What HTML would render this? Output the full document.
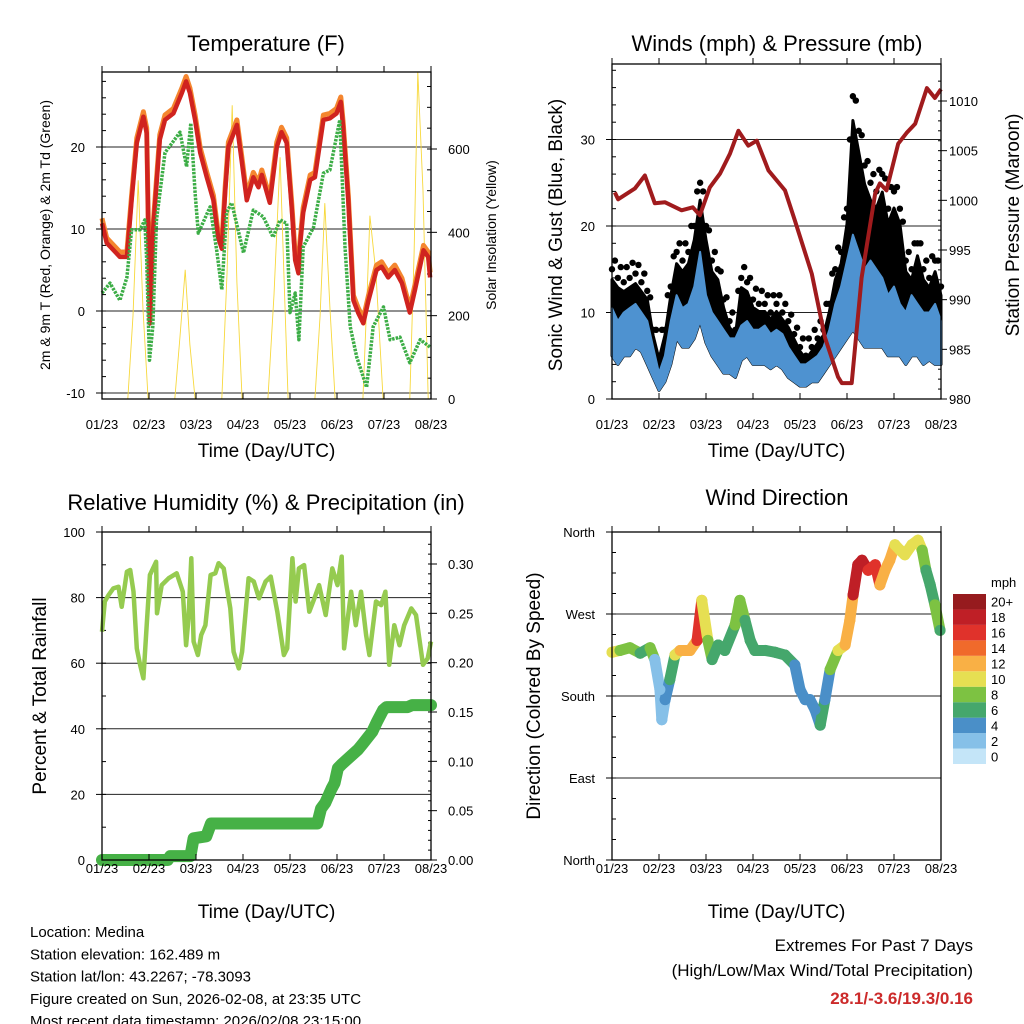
<!DOCTYPE html>
<html><head><meta charset="utf-8"><style>
html,body{margin:0;padding:0;background:#fff;}
svg{display:block;font-family:"Liberation Sans",sans-serif;}
</style></head><body>
<svg id="c" width="1024" height="1024" viewBox="0 0 1024 1024" xmlns="http://www.w3.org/2000/svg"></svg>
<script>
// ---------- Temperature data ----------
const tempDays=[0,0.10,0.38,0.53,0.63,0.74,0.88,0.95,1.02,1.09,1.23,1.34,1.52,1.70,1.79,1.87,1.98,2.09,2.23,2.37,2.47,2.55,2.62,2.69,2.87,2.97,3.08,3.22,3.33,3.40,3.57,3.72,3.82,3.93,4.04,4.11,4.18,4.21,4.28,4.43,4.53,4.71,4.85,4.99,5.08,5.13,5.24,5.35,5.45,5.56,5.67,5.84,5.95,6.09,6.23,6.38,6.55,6.66,6.84,6.94,6.98];
const tempRed=[10.7,8.3,6.6,6.6,13.5,20.5,23.7,21.7,-1.5,10,20.9,23.3,24.1,26.6,28,26.6,23.3,19.3,16.3,13.5,9,7.6,14.4,20,22.7,18.4,13.5,16.3,15.1,16.6,13.2,20,21.8,20.5,12.3,6.2,4.6,7.8,12,16,16.3,23.3,23.5,24.1,25.5,22.5,13.5,1.3,-0.2,-1.5,1.3,5,5.4,4.1,5,3.4,-0.2,2.6,7.4,6.6,4.1];
const dewDays=[0,0.17,0.38,0.53,0.63,0.81,0.91,0.95,1.01,1.08,1.16,1.34,1.66,1.80,1.89,1.98,2.05,2.30,2.44,2.55,2.65,2.76,3.01,3.22,3.43,3.64,3.79,3.93,4.0,4.11,4.19,4.28,4.50,4.71,4.85,5.06,5.17,5.28,5.42,5.63,5.77,5.99,6.13,6.34,6.55,6.77,6.98];
const dewVals=[2.2,3.4,1.3,4.1,9.9,9.9,11.1,6.2,-6,-1.9,11.1,19.3,21.8,17.6,22.9,14.4,9.5,12.7,7.4,2.6,12,13.2,7.1,12.3,11.5,9,11.1,10.7,-0.2,2.2,-3.5,7.8,10.2,16.8,17.2,23.3,7.8,-1.9,-5.6,-9.3,-1.9,0.5,-3.5,-3.2,-6.3,-3.5,-4.4];
const solarDays=[0,0.55,0.66,0.77,0.87,0.98,1.55,1.66,1.77,1.87,1.98,2.55,2.66,2.77,2.87,2.98,3.53,3.66,3.79,3.87,3.96,4.53,4.64,4.74,4.85,4.96,5.55,5.64,5.70,5.83,5.98,6.55,6.64,6.72,6.83,6.94,7.0];
const solarVals=[0,0,200,525,220,0,0,150,310,130,0,0,300,705,280,0,0,250,580,300,0,0,200,470,220,0,0,250,440,300,0,0,350,785,500,0,0];
const tempTicks=[-10,0,10,20];
const solarTicks=[0,200,400,600];
const dayLabels=["01/23","02/23","03/23","04/23","05/23","06/23","07/23","08/23"];
// ---------- Wind data ----------
const windDays=[0,0.125,0.25,0.375,0.5,0.625,0.75,0.875,1,1.125,1.25,1.375,1.5,1.625,1.75,1.875,2,2.125,2.25,2.375,2.5,2.625,2.75,2.875,3,3.125,3.25,3.375,3.5,3.625,3.75,3.875,4,4.125,4.25,4.375,4.5,4.625,4.75,4.875,5,5.125,5.25,5.375,5.5,5.625,5.75,5.875,6,6.125,6.25,6.375,6.5,6.625,6.75,6.875,7];
const windHi=[10.5,9,10,10.5,11,10,9,6,3,5,9,12,10.5,11,13,17,12,10,9,8,7,7,8.5,9,8,8,8.5,7.5,8,7.5,6,5,4,4,4.5,5,6,8,11,13,16,19,17,15,16,15,14,12,13,11,10,12,11,10,10,11,9];
const windLo=[5,4,5,5,6,5.5,4,2.5,1,2,4,7,6,6,7,9,6.5,5,4,3,3,2.5,4.5,5,4,4,4,3.5,4,3.5,2.5,2,1.5,1.5,2,2,3,4,5,6,7,8,7,6,6,6,6,5,5,5,4,5,5,4,4.5,4,4];
const gustHi=[15,14,13.5,14,14.5,13.5,12.5,8,5,8,13,17,16,17,20,25,20,16,15,11.5,9,8,14,13.5,11.5,11,11,10,11,10,9,7.5,6,5,6,7,8,11,15,17,22,35,31,27,25,24,26,22,24,22,16,15,18,15,14,16,13];
const presDays=[0.06,0.13,0.49,0.70,0.91,1.13,1.48,1.72,1.87,2.08,2.30,2.51,2.69,2.90,3.08,3.33,3.68,3.89,4.25,4.53,4.81,4.89,5.10,5.31,5.60,5.70,5.84,6.09,6.27,6.45,6.70,6.87,7.0];
const presVals=[1000.8,1000.1,1001.2,1002.5,999.7,999.8,999,999.3,998.5,1001.3,1002.7,1004.7,1007,1005.5,1006,1003,1001,998,992.6,986.2,982.2,981.6,981.6,992.2,1000.7,1001.7,1001,1005.7,1006.8,1007.7,1011.3,1010.3,1011.2];
const windTicks=[0,10,20,30];
const presTicks=[980,985,990,995,1000,1005,1010];
// ---------- RH / precip ----------
const rhDays=[0,0.06,0.14,0.24,0.35,0.42,0.53,0.6,0.67,0.74,0.81,0.88,0.95,1.02,1.15,1.17,1.27,1.42,1.59,1.72,1.79,1.84,1.90,1.95,2.04,2.11,2.20,2.31,2.41,2.48,2.59,2.73,2.80,2.91,2.98,3.12,3.23,3.34,3.48,3.59,3.73,3.87,3.94,4.05,4.12,4.19,4.30,4.41,4.52,4.62,4.76,4.90,5.01,5.10,5.15,5.30,5.40,5.51,5.62,5.69,5.83,5.94,6.03,6.11,6.22,6.33,6.43,6.58,6.68,6.83,6.93,7.0];
const rhVals=[69.6,78.8,80.8,82.8,83.3,77.2,87.9,88.4,81.8,64.5,59.5,55.4,71.6,86.9,90.9,75.2,83.8,85.9,87.4,81.8,65.5,73.7,92,66.6,62.5,68.6,71.6,86.9,87.4,90.5,88.9,76.7,63.5,58.4,63.5,85.9,84.9,79.8,84.9,86.4,75.7,62.5,64.5,92,78.8,88.9,89.9,75.7,79.8,83.8,74.7,88.9,83.8,92.5,64.5,81.8,71.6,81.8,68.6,62.5,78.8,77.7,81.8,59.5,71.6,65.5,71.6,76.7,74.7,59.5,61.5,66.6];
const rainDays=[0,1.40,1.45,1.88,1.95,2.22,2.32,4.58,4.66,4.75,4.88,4.95,5.02,5.10,5.45,5.55,5.75,5.85,5.98,6.05,6.5,6.6,7.0];
const rainVals=[0,0,0.004,0.004,0.022,0.024,0.037,0.037,0.052,0.058,0.072,0.078,0.093,0.097,0.112,0.118,0.130,0.140,0.152,0.155,0.155,0.157,0.157];
const rhTicks=[0,20,40,60,80,100];
const rainTicks=[0,0.05,0.10,0.15,0.20,0.25,0.30];
// ---------- Wind direction ----------
const dirDays=[0,0.17,0.38,0.60,0.81,0.91,1.02,1.06,1.13,1.23,1.34,1.45,1.66,1.81,1.91,2.04,2.13,2.26,2.40,2.62,2.72,2.83,2.94,3.04,3.26,3.47,3.68,3.89,4.0,4.11,4.21,4.32,4.43,4.53,4.64,4.81,4.96,5.06,5.13,5.23,5.32,5.45,5.60,5.70,5.81,5.91,6.02,6.13,6.23,6.38,6.51,6.60,6.68,6.77,6.87,6.98];
const dirDeg=[228,230,233,227,233,220,187,154,176,198,225,230,230,241,285,241,220,236,230,258,285,263,241,230,230,228,225,214,187,176,176,165,148,176,209,230,236,263,291,324,329,318,324,302,318,329,346,340,335,346,351,340,318,302,280,252];
const dirSpeed=[9,8,7,6,8,2,2,1,4,6,9,12,12,15,10,7,6,6,5,7,7,6,6,5,6,5,5,3,3,4,3,3,6,4,7,10,11,11,17,18,17,15,16,12,11,12,10,9,10,9,10,7,6,6,8,6];
const dirTicks=[0,90,180,270,360];
const dirLabels=["North","East","South","West","North"];
const speedLevels=["0","2","4","6","8","10","12","14","16","18","20+"];
const speedColors=["#c4e5f8","#86c0e8","#4a8fc8","#45a76c","#7dc242","#e6df52","#f9b045","#f06a2b","#e0322b","#bf1f26","#961b1e"];
const bottomInfo=["Location: Medina","Station elevation: 162.489 m","Station lat/lon: 43.2267; -78.3093","Figure created on Sun, 2026-02-08, at 23:35 UTC","Most recent data timestamp: 2026/02/08 23:15:00"];

const NS="http://www.w3.org/2000/svg";
const svg=document.getElementById('c');
function mk(tag,attrs,parent){const e=document.createElementNS(NS,tag);for(const k in attrs)e.setAttribute(k,attrs[k]);(parent||svg).appendChild(e);return e;}
function txt(s,x,y,size,anchor,parent,extra){const t=mk('text',Object.assign({x:x,y:y,'font-size':size,'text-anchor':anchor||'middle',fill:'#000'},extra||{}),parent);t.textContent=s;return t;}
function lin(d0,d1,r0,r1){return v=>r0+(v-d0)*(r1-r0)/(d1-d0);}
function pts(xs,ys,fx,fy){return xs.map((d,i)=>fx(d).toFixed(1)+','+fy(ys[i]).toFixed(1)).join(' ');}

function frame(g,L,R,T,B,fx,labOff,titleOff){
  const r=mk('rect',{x:L,y:T,width:R-L,height:B-T,fill:'none',stroke:'#000','stroke-width':1.3},g);
  
  
  dayLabels.forEach((lab,i)=>{
    const x=fx(i);
    mk('line',{x1:x,y1:B,x2:x,y2:B-6,stroke:'#000','stroke-width':1},g);
    mk('line',{x1:x,y1:T,x2:x,y2:T-6,stroke:'#000','stroke-width':1},g);
    const t=txt(lab,x,B+labOff,13,'middle',g);
    
    
  });
  const xt=txt('Time (Day/UTC)',(L+R)/2,B+titleOff,19,'middle',g);
  
  
}
function grid(g,L,R,y){mk('line',{x1:L,y1:y,x2:R,y2:y,stroke:'#222','stroke-width':1},g);}
function ytick(g,x,y,dir,len){mk('line',{x1:x,y1:y,x2:x+dir*len,y2:y,stroke:'#000','stroke-width':1},g);}

// ===== Panel 1: Temperature =====
(function(){
  const g=mk('g',{});
  
  
  const L=102,R=431,T=72,B=399;
  const fx=lin(0,7,L,R), fy=lin(0,10,311,229), fs=lin(0,600,399,149);
  const ti=txt('Temperature (F)',266,51,22,'middle',g);
  
  
  tempTicks.forEach(v=>{grid(g,L,R,fy(v));ytick(g,L,fy(v),-1,6);
    const t=txt(String(v),L-17,fy(v)+5,13,'end',g);
    
    });
  for(let v=-10;v<=28;v+=2){ytick(g,L,fy(v),1,4);}
  solarTicks.forEach(v=>{ytick(g,R,fs(v),1,6);
    const t=txt(String(v),R+17,fs(v)+5,13,'start',g);
    
    });
  for(let v=0;v<=780;v+=50){ytick(g,R,fs(v),-1,4);}
  const so=mk('polyline',{points:pts(solarDays,solarVals,fx,fs),fill:'none',stroke:'#f7d83c','stroke-width':0.9},g);
  
  
  const tOr=tempRed.map(v=>v+0.6);
  const or=mk('polyline',{points:pts(tempDays,tOr,fx,fy),fill:'none',stroke:'#f4862f','stroke-width':5,'stroke-linejoin':'round'},g);
  
  
  const rd=mk('polyline',{points:pts(tempDays,tempRed,fx,fy),fill:'none',stroke:'#d0231f','stroke-width':4.5,'stroke-linejoin':'round'},g);
  
  
  const dw=mk('polyline',{points:pts(dewDays,dewVals,fx,fy),fill:'none',stroke:'#3cad46','stroke-width':3.5,'stroke-dasharray':'2.5 1.2','stroke-linejoin':'round'},g);
  
  
  frame(g,L,R,T,B,fx,30,58);
  const yl=txt('2m & 9m T (Red, Orange) & 2m Td (Green)',0,0,14,'middle',g,{transform:'translate(50,235) rotate(-90)'});
  
  
  const yr=txt('Solar Insolation (Yellow)',0,0,14,'middle',g,{transform:'translate(496,235) rotate(-90)'});
  
  
})();

// ===== Panel 2: Winds & Pressure =====
(function(){
  const g=mk('g',{});
  
  
  const L=612,R=941,T=64,B=399;
  const fx=lin(0,7,L,R), fy=lin(0,10,399,312.5), fp=lin(980,1010,399,101);
  const ti=txt('Winds (mph) & Pressure (mb)',777,51,22,'middle',g);
  
  
  windTicks.forEach(v=>{if(v>0)grid(g,L,R,fy(v));ytick(g,L,fy(v),-1,6);
    const t=txt(String(v),L-17,fy(v)+5,13,'end',g);
    
    });
  for(let v=0;v<=38;v+=2){ytick(g,L,fy(v),1,4);}
  presTicks.forEach(v=>{ytick(g,R,fp(v),1,6);
    const t=txt(String(v),R+8,fp(v)+5,13,'start',g);
    
    });
  for(let v=980;v<=1012;v++){ytick(g,R,fp(v),-1,3);}
  const gb=windDays.map((d,i)=>fx(d).toFixed(1)+','+fy(gustHi[i]*0.92).toFixed(1)).concat(windDays.slice().reverse().map((d,j)=>{const i=windDays.length-1-j;return fx(d).toFixed(1)+','+fy(windLo[i]).toFixed(1);})).join(' ');
  const gp=mk('polygon',{points:gb,fill:'#000',stroke:'#000','stroke-width':3,'stroke-linejoin':'round'},g);
  
  
  windDays.forEach((d,i)=>{
    const c=mk('circle',{cx:fx(d),cy:fy(gustHi[i]),r:3.2,fill:'#000'},g);
    
    
    if(i<windDays.length-1){
      const c2=mk('circle',{cx:(fx(d)+fx(windDays[i+1]))/2,cy:fy((gustHi[i]+gustHi[i+1])/2+1.5),r:3.2,fill:'#000'},g);
      
      
    }
  });
  const bb=windDays.map((d,i)=>fx(d).toFixed(1)+','+fy(windHi[i]).toFixed(1)).concat(windDays.slice().reverse().map((d,j)=>{const i=windDays.length-1-j;return fx(d).toFixed(1)+','+fy(windLo[i]).toFixed(1);})).join(' ');
  const bp=mk('polygon',{points:bb,fill:'#4e92d0',stroke:'#4e92d0','stroke-width':2,'stroke-linejoin':'round'},g);
  
  
  const pl=mk('polyline',{points:pts(presDays,presVals,fx,fp),fill:'none',stroke:'#a01b1d','stroke-width':4,'stroke-linejoin':'round'},g);
  
  
  frame(g,L,R,T,B,fx,30,58);
  const yl=txt('Sonic Wind & Gust (Blue, Black)',0,0,19,'middle',g,{transform:'translate(562,235) rotate(-90)'});
  
  
  const yr=txt('Station Pressure (Maroon)',0,0,19,'middle',g,{transform:'translate(1019,225) rotate(-90)'});
  
  
})();

// ===== Panel 3: RH & Precip =====
(function(){
  const g=mk('g',{});
  
  
  const L=102,R=431,T=532,B=860;
  const fx=lin(0,7,L,R), fy=lin(0,100,860,532), fr=lin(0,0.30,860,564);
  const ti=txt('Relative Humidity (%) & Precipitation (in)',266,510,22,'middle',g);
  
  
  rhTicks.forEach(v=>{if(v>0&&v<100)grid(g,L,R,fy(v));ytick(g,L,fy(v),-1,6);
    const t=txt(String(v),L-17,fy(v)+5,13,'end',g);
    
    });
  for(let v=0;v<=100;v+=10){ytick(g,L,fy(v),1,4);}
  rainTicks.forEach(v=>{ytick(g,R,fr(v),1,6);
    const t=txt(v.toFixed(2),R+17,fr(v)+5,13,'start',g);
    
    });
  for(let v=0;v<=0.33;v+=0.01){ytick(g,R,fr(v),-1,3);}
  const rl=mk('polyline',{points:pts(rainDays,rainVals,fx,fr),fill:'none',stroke:'#46b146','stroke-width':12,'stroke-linejoin':'round','stroke-linecap':'round'},g);
  
  
  const hl=mk('polyline',{points:pts(rhDays,rhVals,fx,fy),fill:'none',stroke:'#95cb50','stroke-width':4.5,'stroke-linejoin':'round'},g);
  
  
  frame(g,L,R,T,B,fx,13,58);
  const yl=txt('Percent & Total Rainfall',0,0,19,'middle',g,{transform:'translate(46,696) rotate(-90)'});
  
  
})();

// ===== Panel 4: Wind direction =====
(function(){
  const g=mk('g',{});
  
  
  const L=612,R=941,T=532,B=860;
  const fx=lin(0,7,L,R), fy=lin(0,360,860,532);
  const ti=txt('Wind Direction',777,505,22,'middle',g);
  
  
  dirTicks.forEach((v,i)=>{if(v>0&&v<360)grid(g,L,R,fy(v));ytick(g,L,fy(v),-1,6);
    const t=txt(dirLabels[i],L-17,fy(v)+5,13,'end',g);
    
    });
  for(let v=0;v<=360;v+=22.5){ytick(g,L,fy(v),1,4);}
  const col=s=>speedColors[Math.min(10,Math.max(0,Math.round(s/2)))];
  for(let i=0;i<dirDays.length-1;i++){
    const l=mk('line',{x1:fx(dirDays[i]),y1:fy(dirDeg[i]),x2:fx(dirDays[i+1]),y2:fy(dirDeg[i+1]),stroke:col(dirSpeed[i]),'stroke-width':11,'stroke-linecap':'round'},g);
    
    
  }
  dirDays.forEach((d,i)=>{
    const c=mk('circle',{cx:fx(d),cy:fy(dirDeg[i]),r:5.5,fill:col(dirSpeed[i])},g);
    
    
  });
  frame(g,L,R,T,B,fx,13,58);
  const yl=txt('Direction (Colored By Speed)',0,0,19,'middle',g,{transform:'translate(540,696) rotate(-90)'});
  
  
  const cb=mk('g',{},g);
  
  
  const ct=txt('mph',991,587,13,'start',cb);
  
  
  const h=170/11;
  speedLevels.forEach((lab,i)=>{
    const y=764-(i+1)*h;
    const r=mk('rect',{x:953,y:y,width:33,height:h,fill:speedColors[i]},cb);
    
    
    const t=txt(lab,991,y+h/2+5,13,'start',cb);
    
    
  });
})();

// ===== Footer text =====
bottomInfo.forEach((s,i)=>{
  const t=txt(s,30,937+i*22.3,15,'start');
  
  
});
const e1=txt('Extremes For Past 7 Days',973,951,17,'end');


const e2=txt('(High/Low/Max Wind/Total Precipitation)',973,976,17,'end');


const e3=txt('28.1/-3.6/19.3/0.16',973,1004,17,'end',null,{fill:'#cc2a2a','font-weight':'bold'});


</script>
</body></html>
